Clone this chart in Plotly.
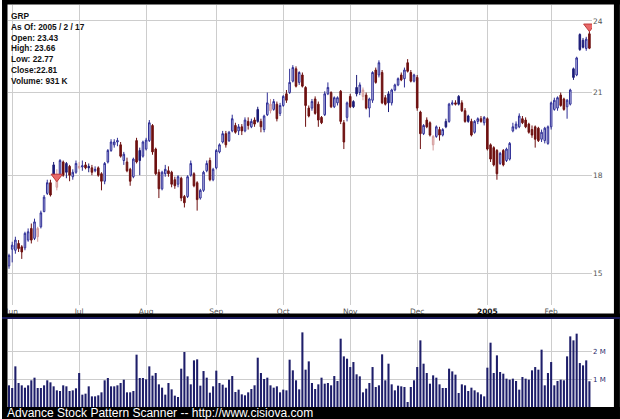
import pandas as pd
import plotly.graph_objects as go

# ---------------- data ----------------
holidays = ["2004-05-31", "2004-06-11", "2004-07-05", "2004-09-06",
            "2004-11-25", "2004-12-24", "2005-01-17"]
dates = [d.strftime("%Y-%m-%d") for d in pd.bdate_range("2004-05-28", "2005-02-17")
         if d.strftime("%Y-%m-%d") not in holidays]

opens = [15.20, 15.68, 15.65, 15.85, 15.75, 15.72, 15.95, 16.30, 16.00, 16.05,
         16.35, 16.82, 17.40, 17.75, 18.35, 17.60, 18.00, 18.45, 18.40, 18.30,
         17.95, 18.10, 18.25, 18.28, 18.35, 18.30, 18.25, 18.15, 18.25, 18.05,
         17.80, 18.45, 18.85, 19.05, 19.15, 19.05, 18.50, 18.45, 18.20, 17.95,
         19.20, 18.85, 18.65, 18.90, 19.20, 19.75, 18.90, 18.10, 17.55, 18.05,
         18.15, 18.10, 17.85, 17.70, 17.90, 17.30, 17.30, 18.00, 18.05, 17.75,
         17.25, 17.50, 18.15, 18.50, 17.85, 18.25, 18.80, 19.15, 19.45, 19.20,
         19.55, 19.75, 19.55, 19.70, 19.55, 19.90, 19.70, 19.95, 20.35, 19.90,
         19.60, 20.15, 20.30, 20.35, 20.55, 20.20, 20.50, 20.95, 21.00, 21.45,
         21.95, 21.40, 21.70, 21.20, 20.40, 20.40, 20.75, 20.55, 20.05, 20.15,
         20.95, 21.00, 20.45, 20.60, 21.05, 19.85, 20.05, 20.85, 20.65, 21.20,
         21.00, 20.85, 20.90, 20.40, 20.70, 21.90, 21.70, 21.80, 20.80, 20.95,
         20.60, 21.10, 21.30, 21.70, 21.55, 22.20, 21.80, 21.45, 21.60, 20.25,
         19.45, 19.95, 19.85, 19.05, 19.35, 19.60, 19.40, 19.90, 19.90, 20.55,
         20.60, 20.85, 20.60, 20.30, 20.10, 19.90, 19.50, 19.90, 20.00, 19.85,
         20.00, 19.05, 18.95, 18.85, 18.40, 18.85, 18.50, 18.55, 19.55, 19.65,
         19.70, 20.00, 19.95, 19.80, 19.60, 19.70, 19.65, 19.25, 19.20, 19.10,
         19.70, 20.35, 20.40, 20.90, 20.75, 20.45, 20.55, 21.95, 21.70, 23.40,
         23.15, 22.80, 23.43]
highs = [15.55, 15.90, 16.05, 15.95, 15.80, 16.20, 16.30, 16.45, 16.60, 16.35,
         16.85, 17.35, 17.85, 17.85, 18.45, 18.20, 18.55, 18.50, 18.45, 18.35,
         18.20, 18.50, 18.45, 18.50, 18.45, 18.40, 18.35, 18.30, 18.30, 18.10,
         18.45, 18.90, 19.25, 19.25, 19.30, 19.15, 18.80, 18.60, 18.25, 18.60,
         19.30, 18.95, 19.20, 19.30, 19.95, 19.80, 18.95, 18.20, 18.15, 18.35,
         18.30, 18.15, 17.95, 18.00, 17.95, 17.35, 18.00, 18.50, 18.10, 17.80,
         17.55, 18.15, 18.50, 18.60, 18.25, 18.90, 19.10, 19.55, 19.55, 19.55,
         20.15, 19.85, 19.80, 19.80, 20.05, 20.05, 20.00, 20.05, 20.45, 20.00,
         20.15, 21.00, 20.75, 20.75, 20.65, 20.60, 20.90, 21.10, 21.95, 22.10,
         22.05, 21.85, 21.80, 21.25, 20.50, 20.75, 20.85, 20.65, 20.10, 21.05,
         21.40, 21.05, 20.85, 20.85, 21.10, 19.95, 20.65, 20.95, 20.70, 21.70,
         21.40, 21.20, 21.00, 20.80, 21.85, 22.00, 22.30, 21.90, 20.90, 21.05,
         21.15, 21.35, 21.60, 21.80, 22.00, 22.35, 21.90, 21.75, 21.70, 20.30,
         19.80, 20.05, 19.90, 19.40, 19.75, 19.70, 19.65, 20.00, 20.60, 20.70,
         20.70, 20.90, 20.70, 20.40, 20.15, 20.00, 19.95, 20.05, 20.10, 20.10,
         20.05, 19.10, 19.00, 18.90, 18.80, 18.90, 18.95, 19.15, 19.85, 19.90,
         20.20, 20.10, 20.05, 19.85, 19.75, 19.75, 19.70, 19.60, 19.70, 19.75,
         20.65, 20.80, 20.85, 21.00, 20.80, 20.75, 21.15, 22.00, 22.45, 23.45,
         23.25, 23.30, 23.66]
lows = [15.12, 15.30, 15.55, 15.60, 15.40, 15.65, 15.90, 15.85, 15.95, 15.90,
        16.30, 16.80, 17.35, 17.30, 17.95, 17.50, 17.95, 17.95, 17.90, 17.80,
        17.85, 18.05, 18.20, 18.15, 18.20, 18.10, 18.00, 18.10, 17.95, 17.50,
        17.70, 18.40, 18.80, 18.95, 19.00, 18.60, 18.35, 18.10, 17.65, 17.90,
        18.40, 18.00, 18.60, 18.85, 19.15, 18.70, 18.00, 17.25, 17.50, 17.95,
        17.95, 17.60, 17.55, 17.60, 17.15, 16.95, 17.25, 17.95, 17.60, 16.85,
        17.20, 17.45, 18.10, 17.80, 17.80, 18.20, 18.75, 19.10, 18.95, 19.15,
        19.50, 19.45, 19.40, 19.40, 19.50, 19.60, 19.65, 19.70, 19.85, 19.50,
        19.50, 20.10, 20.20, 20.30, 19.90, 20.10, 20.45, 20.60, 20.95, 21.40,
        21.20, 21.30, 21.20, 19.70, 20.05, 20.30, 20.15, 19.70, 19.80, 20.10,
        20.90, 20.40, 20.40, 20.50, 19.80, 18.90, 19.90, 20.40, 20.40, 20.85,
        20.90, 20.70, 20.35, 20.05, 20.60, 21.35, 21.60, 20.55, 20.50, 20.25,
        20.50, 21.05, 21.25, 21.45, 21.20, 21.80, 21.40, 21.40, 20.30, 18.90,
        19.40, 19.65, 19.35, 18.85, 19.30, 19.20, 19.35, 19.65, 19.85, 20.50,
        20.50, 20.50, 20.25, 19.85, 19.85, 19.35, 19.45, 19.80, 19.85, 19.75,
        18.85, 18.45, 18.30, 17.85, 18.35, 18.30, 18.45, 18.50, 19.50, 19.60,
        19.65, 19.80, 19.65, 19.45, 19.30, 18.95, 19.15, 19.15, 19.10, 19.05,
        19.60, 20.30, 20.30, 20.45, 20.30, 20.00, 20.50, 21.50, 21.65, 22.70,
        22.80, 22.70, 22.77]
closes = [15.50, 15.80, 15.95, 15.70, 15.60, 16.15, 16.20, 15.95, 16.50, 16.30,
          16.78, 17.28, 17.75, 17.35, 18.00, 17.95, 18.50, 18.00, 18.10, 18.00,
          18.10, 18.40, 18.30, 18.32, 18.25, 18.25, 18.10, 18.20, 18.00, 17.80,
          18.40, 18.85, 19.15, 19.15, 19.20, 18.65, 18.72, 18.15, 17.80, 18.55,
          18.45, 18.50, 19.15, 19.22, 19.85, 18.80, 18.05, 17.55, 18.10, 18.20,
          18.05, 17.70, 17.65, 17.95, 17.25, 17.10, 17.95, 18.40, 17.65, 17.20,
          17.50, 18.10, 18.40, 17.85, 18.20, 18.85, 19.05, 19.45, 19.05, 19.50,
          20.00, 19.50, 19.70, 19.55, 19.95, 19.75, 19.90, 19.80, 19.90, 19.70,
          20.10, 20.60, 20.55, 20.65, 20.00, 20.50, 20.85, 20.70, 21.40, 22.00,
          21.25, 21.80, 21.25, 20.50, 20.10, 20.65, 20.20, 19.95, 19.85, 20.95,
          21.20, 20.45, 20.80, 20.80, 19.90, 19.15, 20.60, 20.45, 20.45, 20.95,
          21.30, 21.10, 20.40, 20.75, 21.80, 21.40, 22.20, 20.60, 20.55, 20.60,
          21.10, 21.30, 21.55, 21.50, 21.90, 21.85, 21.45, 21.70, 20.40, 19.45,
          19.75, 19.70, 19.40, 19.35, 19.70, 19.40, 19.60, 19.70, 20.55, 20.60,
          20.55, 20.55, 20.30, 19.90, 19.90, 19.40, 19.90, 20.00, 19.90, 20.05,
          18.90, 18.55, 18.35, 18.05, 18.75, 18.35, 18.90, 19.10, 19.70, 19.80,
          20.10, 19.85, 19.70, 19.50, 19.40, 19.25, 19.20, 19.50, 19.65, 19.70,
          20.60, 20.70, 20.80, 20.50, 20.35, 20.70, 21.10, 21.60, 22.40, 22.75,
          22.85, 23.20, 22.81]
volumes_k = [783, 687, 1469, 867, 783, 699, 783, 964, 1060, 687,
             687, 783, 964, 891, 747, 602, 578, 783, 747, 578,
             602, 675, 1228, 446, 482, 747, 385, 385, 422, 530,
             964, 1048, 747, 747, 783, 867, 988, 530, 530, 578,
             1891, 1048, 1048, 1000, 1469, 1133, 1228, 819, 699, 446,
             867, 638, 410, 361, 1385, 1987, 1108, 819, 1685, 1722,
             771, 1300, 1060, 518, 747, 1313, 867, 807, 699, 988,
             1119, 542, 627, 458, 422, 530, 651, 783, 1782, 1228,
             1012, 1060, 783, 699, 747, 530, 627, 602, 1710, 1325,
             964, 638, 2697, 1349, 1649,
             867, 651, 819, 1060, 843, 867, 783, 1119, 940, 2469,
             1830, 1746, 1444, 1625, 1181, 1108, 530, 663, 867, 1444,
             723, 783, 1903, 964, 1565, 819, 602, 771, 747, 723,
             181, 723, 964, 1444, 2408, 1565, 1228, 843, 1144, 1060,
             819, 687, 687, 1385, 1288, 1169, 506, 819, 783, 578,
             699, 602, 530, 458, 385, 1421, 2324, 1228, 1866, 1264,
             1204, 1024, 988, 1024, 940, 627, 1084, 1024, 988, 1325,
             1444, 1349, 2072, 783, 1228, 1625, 783, 940, 988, 964,
             1830, 2552, 2408, 2650, 1588, 1505, 1685, 931]

month_tick_dates = ["2004-06-01", "2004-07-01", "2004-08-02", "2004-09-01", "2004-10-01",
                    "2004-11-01", "2004-12-01", "2005-01-03", "2005-02-01"]
month_tick_labels = ["Jun", "Jul", "Aug", "Sep", "Oct", "Nov", "Dec",
                     "<b><span style='color:#111'>2005</span></b>", "Feb"]
price_ticks = [15, 18, 21, 24]
volume_ticks = [1_000_000, 2_000_000]
volume_tick_labels = ["1 M", "2 M"]
signal_dates = ["2004-06-22", "2005-02-17"]
signal_prices = [17.95, 23.75]
symbol = "GRP"

# ---------------- geometry helpers (pixels -> paper) ----------------
W, H = 620, 419
PL, PR, PT, PB = 6, 592, 5, 407


def px(x):
    return (x - PL) / (PR - PL)


def py(y):
    return (PB - y) / (PB - PT)


# ---------------- split candles by colour ----------------
blue_idx, red_idx = [], []
for i in range(len(closes)):
    prev = closes[i - 1] if i > 0 else opens[0]
    (blue_idx if closes[i] >= prev else red_idx).append(i)


def sub(arr, idx):
    return [arr[i] for i in idx]


fig = go.Figure()
fig.add_trace(go.Candlestick(
    x=sub(dates, blue_idx), open=sub(opens, blue_idx), high=sub(highs, blue_idx),
    low=sub(lows, blue_idx), close=sub(closes, blue_idx),
    increasing=dict(line=dict(color="#2e2e96", width=1), fillcolor="#d2d2f2"),
    decreasing=dict(line=dict(color="#1c1c78", width=1), fillcolor="#1c1c78"),
    whiskerwidth=0, xaxis="x", yaxis="y", hoverinfo="skip"))
fig.add_trace(go.Candlestick(
    x=sub(dates, red_idx), open=sub(opens, red_idx), high=sub(highs, red_idx),
    low=sub(lows, red_idx), close=sub(closes, red_idx),
    increasing=dict(line=dict(color="#d39c9c", width=1), fillcolor="#f0c6c6"),
    decreasing=dict(line=dict(color="#6e1010", width=1), fillcolor="#6e1010"),
    whiskerwidth=0, xaxis="x", yaxis="y", hoverinfo="skip"))
fig.add_trace(go.Scatter(
    x=signal_dates, y=signal_prices, mode="markers",
    marker=dict(symbol="triangle-down", size=10, color="#e86a6a",
                line=dict(color="#c03a3a", width=1)),
    xaxis="x", yaxis="y", hoverinfo="skip"))
fig.add_trace(go.Bar(
    x=dates, y=[v * 1000 for v in volumes_k], marker=dict(color="#1e1e6a", line=dict(width=0)),
    xaxis="x2", yaxis="y2", hoverinfo="skip"))

grid = "#cdcdcd"
tickfont = dict(family="DejaVu Sans", size=7.5, color="#555555")
xr = [(PL - 7) / 3.2, (PR - 7) / 3.2]

fig.update_layout(
    width=W, height=H,
    margin=dict(l=PL, r=W - PR, t=PT, b=H - PB, pad=0),
    paper_bgcolor="white", plot_bgcolor="white",
    showlegend=False, bargap=0.35, hovermode=False,
    xaxis=dict(domain=[0, 1], anchor="y", type="category",
               categoryorder="array", categoryarray=dates, range=xr,
               tickmode="array", tickvals=month_tick_dates, ticktext=month_tick_labels,
               showgrid=True, gridcolor=grid, gridwidth=1, ticks="",
               tickfont=tickfont, zeroline=False, showline=False,
               rangeslider=dict(visible=False), fixedrange=True),
    yaxis=dict(domain=[py(305), 1], anchor="x", type="log",
               range=[1.1502, 1.3931], side="right",
               tickmode="array", tickvals=price_ticks, ticktext=[str(t) for t in price_ticks],
               showgrid=True, gridcolor=grid, gridwidth=1, ticks="",
               tickfont=tickfont, zeroline=False, showline=False, fixedrange=True),
    xaxis2=dict(domain=[0, 1], anchor="y2", type="category", matches="x",
                categoryorder="array", categoryarray=dates,
                tickmode="array", tickvals=month_tick_dates, showticklabels=False,
                showgrid=True, gridcolor=grid, gridwidth=1, ticks="",
                zeroline=False, showline=False),
    yaxis2=dict(domain=[0, py(319)], anchor="x2", range=[0, 3.18e6], side="right",
                tickmode="array", tickvals=volume_ticks, ticktext=volume_tick_labels,
                showgrid=True, gridcolor=grid, gridwidth=1, ticks="",
                tickfont=dict(family="DejaVu Sans", size=7, color="#2a2a6a"),
                zeroline=False, showline=False, fixedrange=True),
)

# frame and separators
black = "#000000"
frame = [
    (0, 0, 5.5, H, black),          # left
    (614, 0, W, H, black),          # right
    (0, 0, W, 4.5, black),          # top
    (0, PB, W, H, black),           # bottom band
    (0, 313.5, W, 317, black),      # separator
    (0, 317, W, 319, "#1a1a5a"),    # navy rule
]
for x0, y0, x1, y1, c in frame:
    fig.add_shape(type="rect", xref="paper", yref="paper",
                  x0=px(x0), x1=px(x1), y0=py(y1), y1=py(y0),
                  fillcolor=c, line=dict(width=0), layer="above")

info_lines = [
    symbol,
    "As Of: " + " / ".join(str(int(p)) for p in dates[-1].split("-")),
    f"Open: {opens[-1]:.2f}",
    f"High: {highs[-1]:.2f}",
    f"Low: {lows[-1]:.2f}",
    f"Close:{closes[-1]:.2f}",
    f"Volume: {volumes_k[-1]} K",
]
fig.add_annotation(xref="paper", yref="paper", x=px(7.5), y=py(8.5),
                   xanchor="left", yanchor="top", align="left", showarrow=False,
                   text="<br>".join(f"<b>{s}</b>" for s in info_lines),
                   font=dict(family="Arial", size=8.3, color="#111111"))
fig.add_annotation(xref="paper", yref="paper", x=px(3), y=py(413),
                   xanchor="left", yanchor="middle", showarrow=False,
                   text="Advance Stock Pattern Scanner -- http://www.cisiova.com",
                   font=dict(family="Arial", size=12, color="white"))

fig.write_html("out.html", config={"displayModeBar": False, "staticPlot": True},
               post_script="document.body.style.margin='0';document.body.style.overflow='hidden';")
